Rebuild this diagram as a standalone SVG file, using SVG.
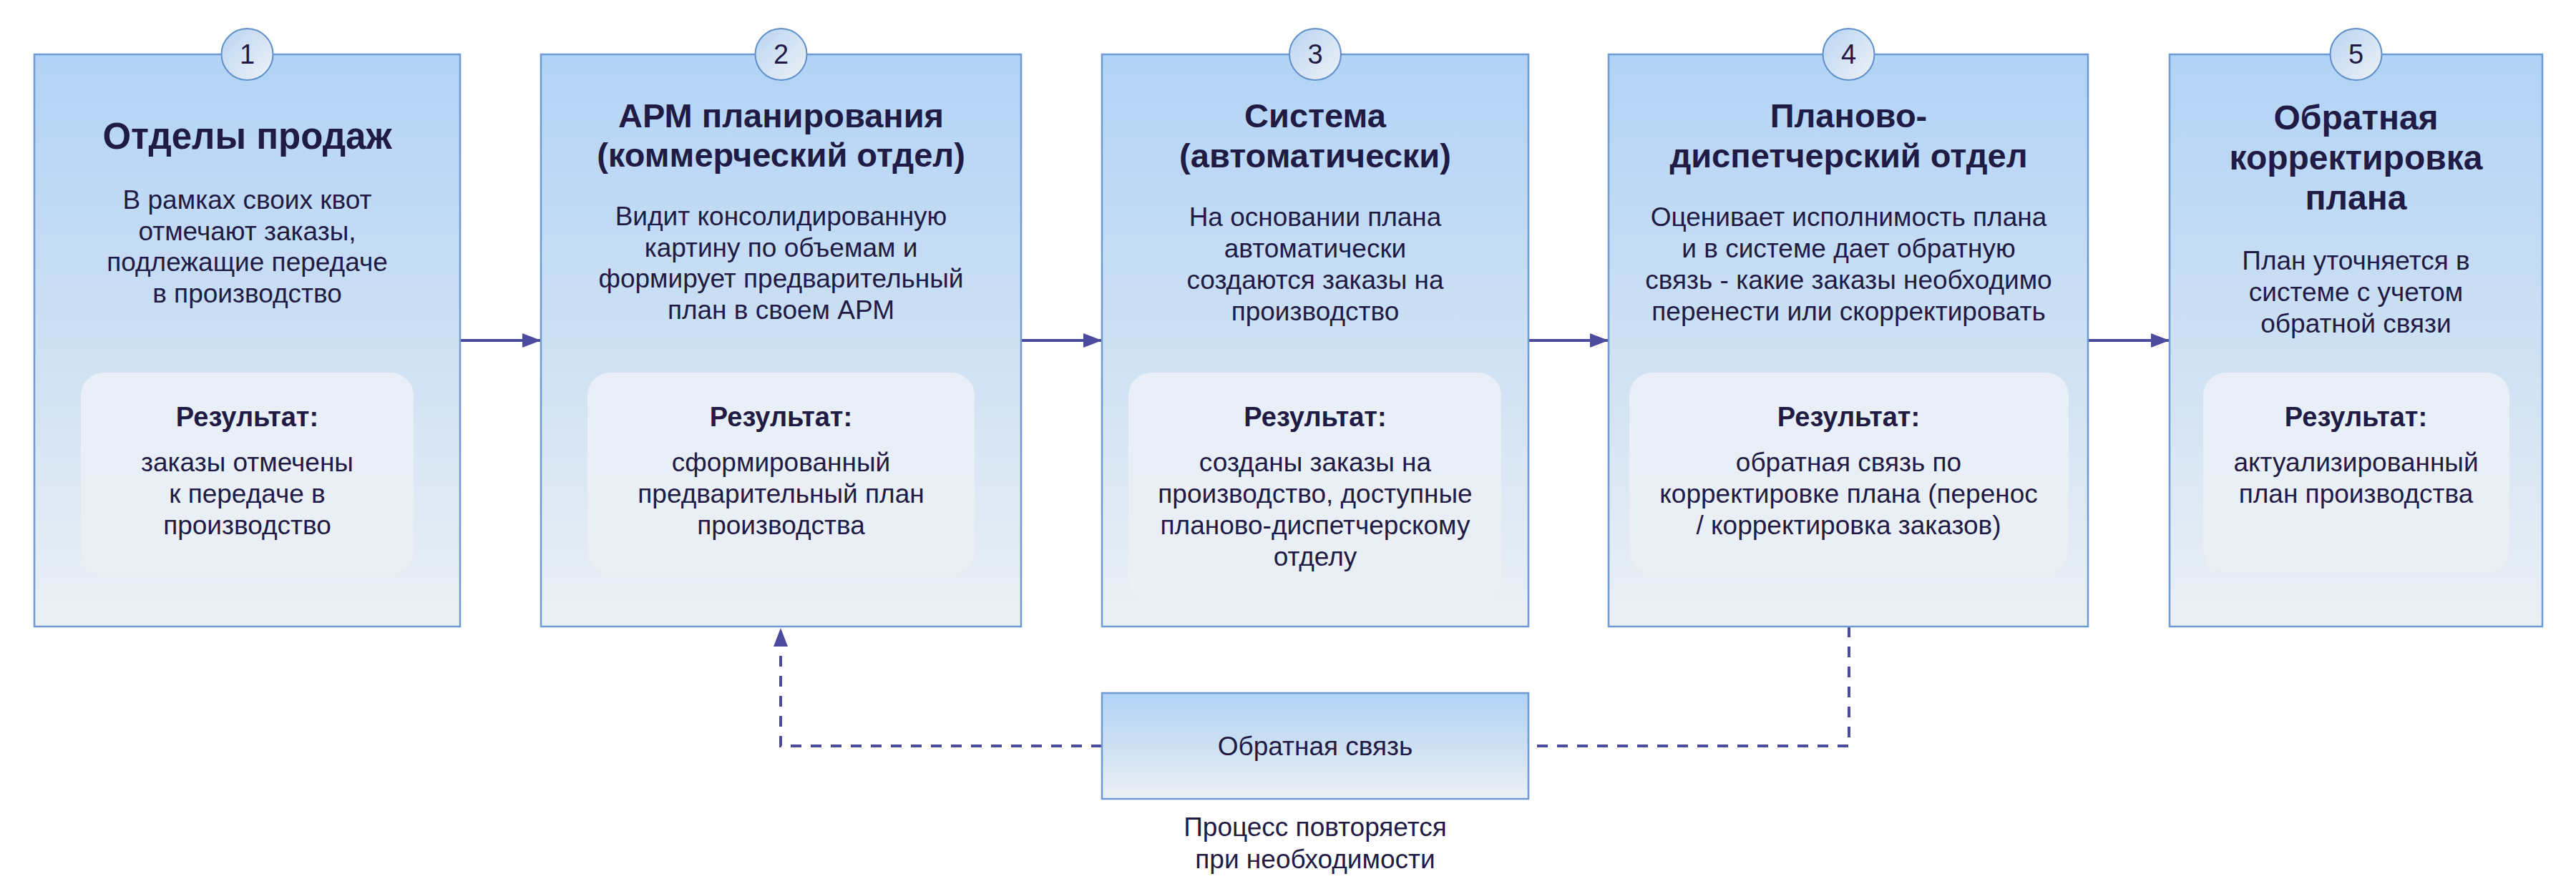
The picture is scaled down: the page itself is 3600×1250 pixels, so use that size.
<svg xmlns="http://www.w3.org/2000/svg" width="3600" height="1250" viewBox="0 0 3600 1250">
<defs>
<linearGradient id="gBox" x1="0" y1="0" x2="0" y2="1">
<stop offset="0" stop-color="#b2d3f6"/>
<stop offset="0.5" stop-color="#cde0f3"/>
<stop offset="1" stop-color="#ebf0f5"/>
</linearGradient>
<linearGradient id="gCircle" x1="0" y1="0" x2="1" y2="1">
<stop offset="0" stop-color="#b9d4f2"/>
<stop offset="1" stop-color="#eef2f7"/>
</linearGradient>
<marker id="arrow" markerUnits="userSpaceOnUse" markerWidth="26" markerHeight="20" refX="26" refY="10" orient="auto">
<path d="M0,0 L26,10 L0,20 Z" fill="#4b4a9c"/>
</marker>
</defs>
<style>
.box{fill:url(#gBox);stroke:#6d9ad3;stroke-width:2.5}
.res{fill:#eaeff5;fill-opacity:0.95}
.num{fill:url(#gCircle);stroke:#5f90cb;stroke-width:2}
text{font-family:"Liberation Sans",Arial,sans-serif;fill:#1f1b45;text-anchor:middle}
.t{font-size:47px;font-weight:bold}
.t1{font-size:51px;font-weight:bold}
.t5{font-size:48px;font-weight:bold}
.b{font-size:37px}
.rh{font-size:38px;font-weight:bold}
.n{font-size:38px}
.solid{fill:none;stroke:#4b4a9c;stroke-width:4}
.dash{fill:none;stroke:#4b4a9c;stroke-width:4;stroke-dasharray:15 13}
</style>
<rect width="3600" height="1250" fill="#ffffff"/>

<g id="connectors">
<path class="solid" d="M643,476 H756" marker-end="url(#arrow)"/>
<path class="solid" d="M1427,476 H1540" marker-end="url(#arrow)"/>
<path class="solid" d="M2136,476 H2248" marker-end="url(#arrow)"/>
<path class="solid" d="M2918,476 H3032" marker-end="url(#arrow)"/>
<path class="dash" d="M2584,876 V1043 H2136"/>
<path class="dash" d="M1540,1043 H1091 V878" marker-end="url(#arrow)"/>
</g>

<g id="node1">
<rect class="box" x="48" y="76" width="595" height="800"/>
<circle class="num" cx="345.5" cy="76" r="36"/>
<text class="n" x="345.5" y="89">1</text>
<text class="t1" x="345.5" y="208">Отделы продаж</text>
<text class="b" x="345.5" y="292">В рамках своих квот</text>
<text class="b" x="345.5" y="336">отмечают заказы,</text>
<text class="b" x="345.5" y="379">подлежащие передаче</text>
<text class="b" x="345.5" y="423">в производство</text>
<rect class="res" x="113" y="521" width="465" height="281" rx="32"/>
<text class="rh" x="345.5" y="596">Результат:</text>
<text class="b" x="345.5" y="659">заказы отмечены</text>
<text class="b" x="345.5" y="703">к передаче в</text>
<text class="b" x="345.5" y="747">производство</text>
</g>

<g id="node2">
<rect class="box" x="756" y="76" width="671" height="800"/>
<circle class="num" cx="1091.5" cy="76" r="36"/>
<text class="n" x="1091.5" y="89">2</text>
<text class="t" x="1091.5" y="178">АРМ планирования</text>
<text class="t" x="1091.5" y="233">(коммерческий отдел)</text>
<text class="b" x="1091.5" y="315">Видит консолидированную</text>
<text class="b" x="1091.5" y="359">картину по объемам и</text>
<text class="b" x="1091.5" y="402">формирует предварительный</text>
<text class="b" x="1091.5" y="446">план в своем АРМ</text>
<rect class="res" x="821" y="521" width="541" height="281" rx="32"/>
<text class="rh" x="1091.5" y="596">Результат:</text>
<text class="b" x="1091.5" y="659">сформированный</text>
<text class="b" x="1091.5" y="703">предварительный план</text>
<text class="b" x="1091.5" y="747">производства</text>
</g>

<g id="node3">
<rect class="box" x="1540" y="76" width="596" height="800"/>
<circle class="num" cx="1838" cy="76" r="36"/>
<text class="n" x="1838" y="89">3</text>
<text class="t" x="1838" y="178">Система</text>
<text class="t" x="1838" y="234">(автоматически)</text>
<text class="b" x="1838" y="316">На основании плана</text>
<text class="b" x="1838" y="360">автоматически</text>
<text class="b" x="1838" y="404">создаются заказы на</text>
<text class="b" x="1838" y="448">производство</text>
<rect class="res" x="1577" y="521" width="521" height="319" rx="32"/>
<text class="rh" x="1838" y="596">Результат:</text>
<text class="b" x="1838" y="659">созданы заказы на</text>
<text class="b" x="1838" y="703">производство, доступные</text>
<text class="b" x="1838" y="747">планово-диспетчерскому</text>
<text class="b" x="1838" y="791">отделу</text>
</g>

<g id="node4">
<rect class="box" x="2248" y="76" width="670" height="800"/>
<circle class="num" cx="2583.5" cy="76" r="36"/>
<text class="n" x="2583.5" y="89">4</text>
<text class="t" x="2583.5" y="178">Планово-</text>
<text class="t" x="2583.5" y="234">диспетчерский отдел</text>
<text class="b" x="2583.5" y="316">Оценивает исполнимость плана</text>
<text class="b" x="2583.5" y="360">и в системе дает обратную</text>
<text class="b" x="2583.5" y="404">связь - какие заказы необходимо</text>
<text class="b" x="2583.5" y="448">перенести или скорректировать</text>
<rect class="res" x="2277" y="521" width="614" height="281" rx="32"/>
<text class="rh" x="2583.5" y="596">Результат:</text>
<text class="b" x="2583.5" y="659">обратная связь по</text>
<text class="b" x="2583.5" y="703">корректировке плана (перенос</text>
<text class="b" x="2583.5" y="747">/ корректировка заказов)</text>
</g>

<g id="node5">
<rect class="box" x="3032" y="76" width="521" height="800"/>
<circle class="num" cx="3292.5" cy="76" r="36"/>
<text class="n" x="3292.5" y="89">5</text>
<text class="t5" x="3292.5" y="181">Обратная</text>
<text class="t5" x="3292.5" y="237">корректировка</text>
<text class="t5" x="3292.5" y="293">плана</text>
<text class="b" x="3292.5" y="377">План уточняется в</text>
<text class="b" x="3292.5" y="421">системе с учетом</text>
<text class="b" x="3292.5" y="465">обратной связи</text>
<rect class="res" x="3079" y="521" width="428" height="279" rx="32"/>
<text class="rh" x="3292.5" y="596">Результат:</text>
<text class="b" x="3292.5" y="659">актуализированный</text>
<text class="b" x="3292.5" y="703">план производства</text>
</g>

<g id="feedback">
<rect class="box" x="1540" y="969" width="596" height="148"/>
<text class="b" x="1838" y="1056">Обратная связь</text>
</g>

<g id="caption">
<text class="b" x="1838" y="1169">Процесс повторяется</text>
<text class="b" x="1838" y="1214">при необходимости</text>
</g>
</svg>
